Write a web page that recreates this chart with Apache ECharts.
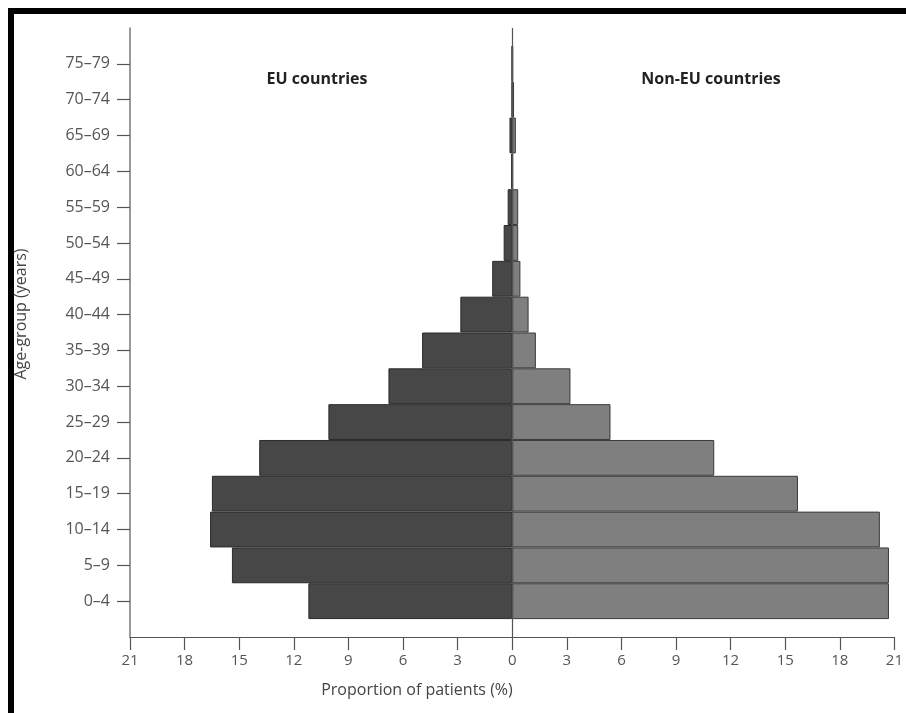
<!DOCTYPE html>
<html>
<head>
<meta charset="utf-8">
<script src="https://cdn.jsdelivr.net/npm/echarts@6/dist/echarts.min.js"></script>
<style>
html,body{margin:0;padding:0;background:#fff;}
#c{width:906px;height:713px;}
</style>
</head>
<body>
<div id="c"></div>
<script>
// Age groups, bottom to top
var ageGroups = ['0–4','5–9','10–14','15–19','20–24','25–29','30–34','35–39','40–44','45–49','50–54','55–59','60–64','65–69','70–74','75–79'];
// Proportion of patients (%)
var euValues    = [11.2, 15.4, 16.6, 16.5, 13.9, 10.1, 6.8, 4.95, 2.85, 1.1, 0.47, 0.25, 0.05, 0.15, 0.02, 0.02];
var nonEuValues = [20.7, 20.7, 20.2, 15.7, 11.1, 5.4, 3.2, 1.3, 0.9, 0.45, 0.33, 0.33, 0.05, 0.2, 0.1, 0.05];
var xTicks = {min: -21, max: 21, interval: 3};

var cats = [''].concat(ageGroups).concat(['']);
var euData = [null].concat(euValues.map(function(v){return -v;})).concat([null]);
var nonEuData = [null].concat(nonEuValues).concat([null]);

var font = '"Open Sans", "DejaVu Sans", sans-serif';
var chart = echarts.init(document.getElementById('c'), null, {renderer: 'canvas'});
chart.setOption({
  animation: false,
  backgroundColor: '#fff',
  grid: {left: 130, right: 10, top: 28, bottom: 76, containLabel: false},
  xAxis: {
    type: 'value',
    min: xTicks.min, max: xTicks.max, interval: xTicks.interval,
    axisLine: {show: true, onZero: false, lineStyle: {color: '#555', width: 1}},
    axisTick: {show: true, length: 13, inside: false, lineStyle: {color: '#555', width: 1.2}},
    axisLabel: {color: '#555', fontSize: 15, fontFamily: font, margin: 16,
      formatter: function(v){ return String(Math.abs(v)); }},
    splitLine: {show: false}
  },
  yAxis: {
    type: 'category',
    data: cats,
    boundaryGap: false,
    position: 'left',
    axisLine: {show: true, onZero: false, lineStyle: {color: '#777', width: 1.5}},
    axisTick: {show: true, length: 13, lineStyle: {color: '#555', width: 1.2},
      interval: function(i){ return i > 0 && i < cats.length - 1; }},
    axisLabel: {color: '#555', fontSize: 16, fontFamily: font, margin: 20,
      interval: function(i){ return i > 0 && i < cats.length - 1; }},
    splitLine: {show: false}
  },
  series: [
    {
      name: 'EU countries', type: 'bar', data: euData,
      barWidth: '100%', barGap: '-100%',
      itemStyle: {color: '#474747', borderColor: '#2a2a2a', borderWidth: 1}
    },
    {
      name: 'Non-EU countries', type: 'bar', data: nonEuData,
      barWidth: '100%', barGap: '-100%',
      itemStyle: {color: '#7f7f7f', borderColor: '#3a3a3a', borderWidth: 1},
      markLine: {
        silent: true, symbol: 'none', label: {show: false},
        lineStyle: {color: '#555', width: 1.2, type: 'solid'},
        data: [{xAxis: 0}]
      }
    }
  ],
  graphic: [
    {type: 'rect', shape: {x: 8, y: 8, width: 898, height: 6}, style: {fill: '#000'}, z: 100},
    {type: 'rect', shape: {x: 8, y: 8, width: 6, height: 705}, style: {fill: '#000'}, z: 100},
    {type: 'text', x: 317, y: 79, style: {text: 'EU countries', fill: '#222', font: 'bold 16px ' + font, textAlign: 'center', textVerticalAlign: 'middle'}, z: 50},
    {type: 'text', x: 711, y: 79, style: {text: 'Non-EU countries', fill: '#222', font: 'bold 16px ' + font, textAlign: 'center', textVerticalAlign: 'middle'}, z: 50},
    {type: 'text', x: 417, y: 690, style: {text: 'Proportion of patients (%)', fill: '#444', font: '16px ' + font, textAlign: 'center', textVerticalAlign: 'middle'}, z: 50},
    {type: 'text', x: 21, y: 314, rotation: Math.PI / 2, style: {text: 'Age-group (years)', fill: '#444', font: '16px ' + font, textAlign: 'center', textVerticalAlign: 'middle'}, z: 50}
  ]
});
</script>
</body>
</html>
